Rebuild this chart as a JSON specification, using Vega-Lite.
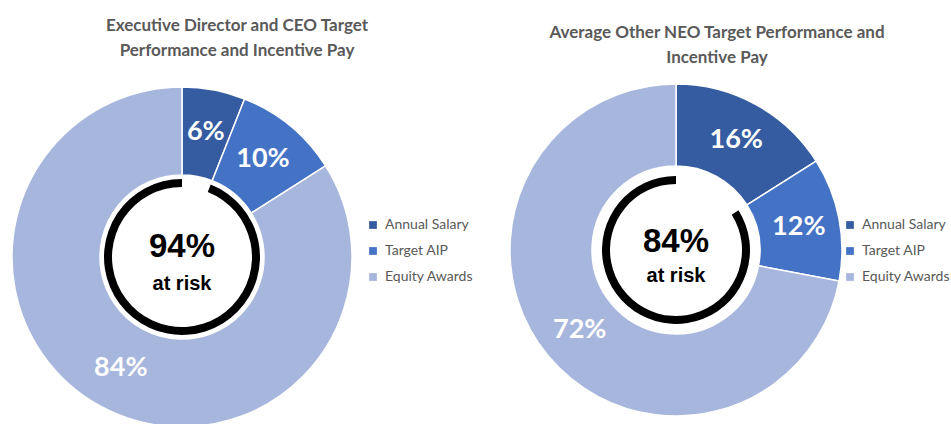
{
  "$schema": "https://vega.github.io/schema/vega-lite/v6.json",
  "background": "white",
  "padding": {"left": 9, "top": 17, "right": 0, "bottom": 0},
  "config": {
    "view": {"stroke": null},
    "concat": {"spacing": 33},
    "title": {"font": "Lato", "fontSize": 17, "fontWeight": "bold", "color": "#595959", "lineHeight": 25, "anchor": "middle", "frame": "group"},
    "legend": {"orient": "none", "title": null, "symbolType": "square", "symbolSize": 60, "symbolStrokeWidth": 0, "labelFont": "Lato", "labelFontSize": 14, "labelColor": "#595959", "rowPadding": 12, "padding": 0, "labelOffset": 5}
  },
  "resolve": {"legend": {"color": "independent"}},
  "datasets": {
    "slices": [
      {"chart": "ceo", "category": "Annual Salary", "rank": 1, "value": 6, "label": "6%"},
      {"chart": "ceo", "category": "Target AIP", "rank": 2, "value": 10, "label": "10%"},
      {"chart": "ceo", "category": "Equity Awards", "rank": 3, "value": 84, "label": "84%"},
      {"chart": "neo", "category": "Annual Salary", "rank": 1, "value": 16, "label": "16%"},
      {"chart": "neo", "category": "Target AIP", "rank": 2, "value": 12, "label": "12%"},
      {"chart": "neo", "category": "Equity Awards", "rank": 3, "value": 72, "label": "72%"}
    ],
    "ring": [
      {"chart": "ceo", "part": "gap", "value": 6},
      {"chart": "ceo", "part": "risk", "value": 94},
      {"chart": "neo", "part": "gap", "value": 16},
      {"chart": "neo", "part": "risk", "value": 84}
    ],
    "center": [
      {"chart": "ceo", "big": "94%", "small": "at risk"},
      {"chart": "neo", "big": "84%", "small": "at risk"}
    ]
  },
  "hconcat": [
    {
      "width": 340,
      "height": 340,
      "title": {"text": ["Executive Director and CEO Target", "Performance and Incentive Pay"], "dx": 55, "offset": 24},
      "layer": [
        {
          "data": {"name": "slices"},
          "transform": [{"filter": "datum.chart === 'ceo'"}],
          "mark": {"type": "arc", "radius": 170, "radius2": 82, "stroke": "white", "strokeWidth": 1.5},
          "encoding": {
            "theta": {"field": "value", "type": "quantitative", "stack": true},
            "order": {"field": "rank", "type": "quantitative"},
            "color": {
              "field": "category", "type": "nominal",
              "scale": {"domain": ["Annual Salary", "Target AIP", "Equity Awards"], "range": ["#355CA0", "#4472C4", "#A7B6DC"]},
              "legend": {"legendX": 354, "legendY": 131}
            }
          }
        },
        {
          "data": {"name": "slices"},
          "transform": [{"filter": "datum.chart === 'ceo'"}],
          "mark": {"type": "text", "radius": 127, "font": "Lato", "fontWeight": "bold", "fontSize": 27, "fill": "white"},
          "encoding": {
            "theta": {"field": "value", "type": "quantitative", "stack": true},
            "order": {"field": "rank", "type": "quantitative"},
            "text": {"field": "label"}
          }
        },
        {
          "data": {"name": "ring"},
          "transform": [{"filter": "datum.chart === 'ceo'"}],
          "mark": {"type": "arc", "radius": 78, "radius2": 70, "fill": "black"},
          "encoding": {
            "theta": {"field": "value", "type": "quantitative", "stack": true},
            "order": {"field": "part", "type": "nominal"},
            "opacity": {"condition": {"test": "datum.part === 'gap'", "value": 0}, "value": 1}
          }
        },
        {
          "data": {"name": "center"},
          "transform": [{"filter": "datum.chart === 'ceo'"}],
          "mark": {"type": "text", "font": "Liberation Sans", "fontWeight": "bold", "fontSize": 33, "fill": "black", "dy": -10},
          "encoding": {"text": {"field": "big"}}
        },
        {
          "data": {"name": "center"},
          "transform": [{"filter": "datum.chart === 'ceo'"}],
          "mark": {"type": "text", "font": "Liberation Sans", "fontWeight": "bold", "fontSize": 20, "fill": "black", "dy": 27},
          "encoding": {"text": {"field": "small"}}
        }
      ]
    },
    {
      "width": 332,
      "height": 326,
      "title": {"text": ["Average Other NEO Target Performance and", "Incentive Pay"], "dx": 41, "offset": 14},
      "layer": [
        {
          "data": {"name": "slices"},
          "transform": [{"filter": "datum.chart === 'neo'"}],
          "mark": {"type": "arc", "radius": 166, "radius2": 84, "stroke": "white", "strokeWidth": 1.5},
          "encoding": {
            "theta": {"field": "value", "type": "quantitative", "stack": true},
            "order": {"field": "rank", "type": "quantitative"},
            "color": {
              "field": "category", "type": "nominal",
              "scale": {"domain": ["Annual Salary", "Target AIP", "Equity Awards"], "range": ["#355CA0", "#4472C4", "#A7B6DC"]},
              "legend": {"legendX": 333, "legendY": 131}
            }
          }
        },
        {
          "data": {"name": "slices"},
          "transform": [{"filter": "datum.chart === 'neo'"}],
          "mark": {"type": "text", "radius": 125, "font": "Lato", "fontWeight": "bold", "fontSize": 27, "fill": "white"},
          "encoding": {
            "theta": {"field": "value", "type": "quantitative", "stack": true},
            "order": {"field": "rank", "type": "quantitative"},
            "text": {"field": "label"}
          }
        },
        {
          "data": {"name": "ring"},
          "transform": [{"filter": "datum.chart === 'neo'"}],
          "mark": {"type": "arc", "radius": 74, "radius2": 66, "fill": "black"},
          "encoding": {
            "theta": {"field": "value", "type": "quantitative", "stack": true},
            "order": {"field": "part", "type": "nominal"},
            "opacity": {"condition": {"test": "datum.part === 'gap'", "value": 0}, "value": 1}
          }
        },
        {
          "data": {"name": "center"},
          "transform": [{"filter": "datum.chart === 'neo'"}],
          "mark": {"type": "text", "font": "Liberation Sans", "fontWeight": "bold", "fontSize": 33, "fill": "black", "dy": -8},
          "encoding": {"text": {"field": "big"}}
        },
        {
          "data": {"name": "center"},
          "transform": [{"filter": "datum.chart === 'neo'"}],
          "mark": {"type": "text", "font": "Liberation Sans", "fontWeight": "bold", "fontSize": 20, "fill": "black", "dy": 26},
          "encoding": {"text": {"field": "small"}}
        }
      ]
    }
  ]
}
